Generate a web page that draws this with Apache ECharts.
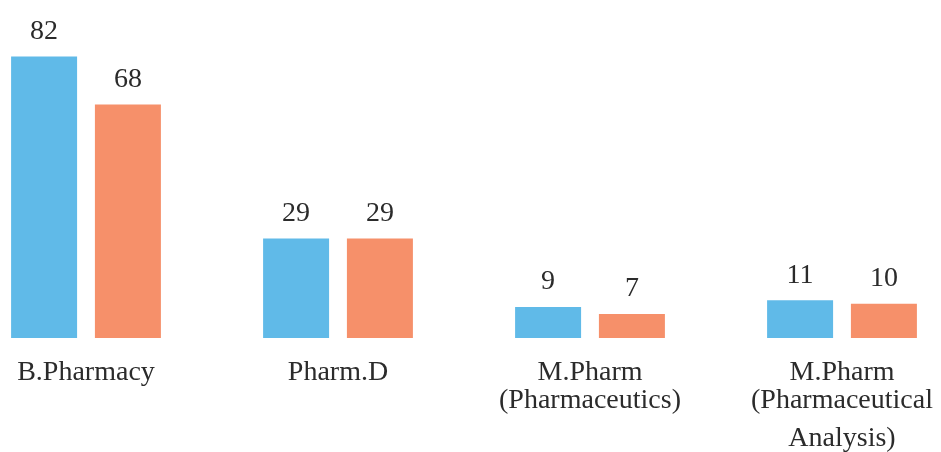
<!DOCTYPE html>
<html>
<head>
<meta charset="utf-8">
<script src="https://cdn.jsdelivr.net/npm/echarts@6/dist/echarts.min.js"></script>
<style>
html,body{margin:0;padding:0;background:#fff;overflow:hidden;width:941px;height:452px;}
#chart{width:1008px;height:452px;margin-left:-40px;}
</style>
</head>
<body>
<div id="chart"></div>
<script>
var categories = ['B.Pharmacy', 'Pharm.D', 'M.Pharm\n(Pharmaceutics)', 'M.Pharm\n(Pharmaceutical\nAnalysis)'];
var seriesA = [82, 29, 9, 11];
var seriesB = [68, 29, 7, 10];

var chart = echarts.init(document.getElementById('chart'));
var font = '"Liberation Serif", "Times New Roman", serif';
var labelStyle = {
  show: true,
  position: 'top',
  distance: 11,
  fontFamily: font,
  fontSize: 28,
  color: '#2b2b2b'
};
chart.setOption({
  animation: false,
  backgroundColor: '#ffffff',
  grid: { left: 0, right: 0, top: 29, bottom: 114, containLabel: false, outerBoundsMode: 'none' },
  xAxis: {
    type: 'category',
    data: categories,
    axisLine: { show: false },
    axisTick: { show: false },
    splitLine: { show: false },
    axisLabel: {
      interval: 0,
      margin: 21,
      color: '#2b2b2b',
      fontFamily: font,
      fontSize: 28,
      lineHeight: 28,
      hideOverlap: false,
      formatter: function (v) {
        var lines = v.split('\n');
        return lines.map(function (l, i) {
          return (i === 2 ? '{c|' : '{a|') + l + '}';
        }).join('\n');
      },
      rich: {
        a: { fontFamily: font, fontSize: 28, lineHeight: 28, color: '#2b2b2b' },
        c: { fontFamily: font, fontSize: 28, lineHeight: 48, color: '#2b2b2b' }
      }
    }
  },
  yAxis: {
    type: 'value',
    min: 0,
    max: 90,
    show: false,
    splitLine: { show: false }
  },
  series: [
    {
      type: 'bar',
      data: seriesA,
      barWidth: 66,
      barGap: '27%',
      itemStyle: { color: '#60BAE8' },
      label: labelStyle
    },
    {
      type: 'bar',
      data: seriesB,
      barWidth: 66,
      barGap: '27%',
      itemStyle: { color: '#F6906A' },
      label: labelStyle
    }
  ]
});
</script>
</body>
</html>
